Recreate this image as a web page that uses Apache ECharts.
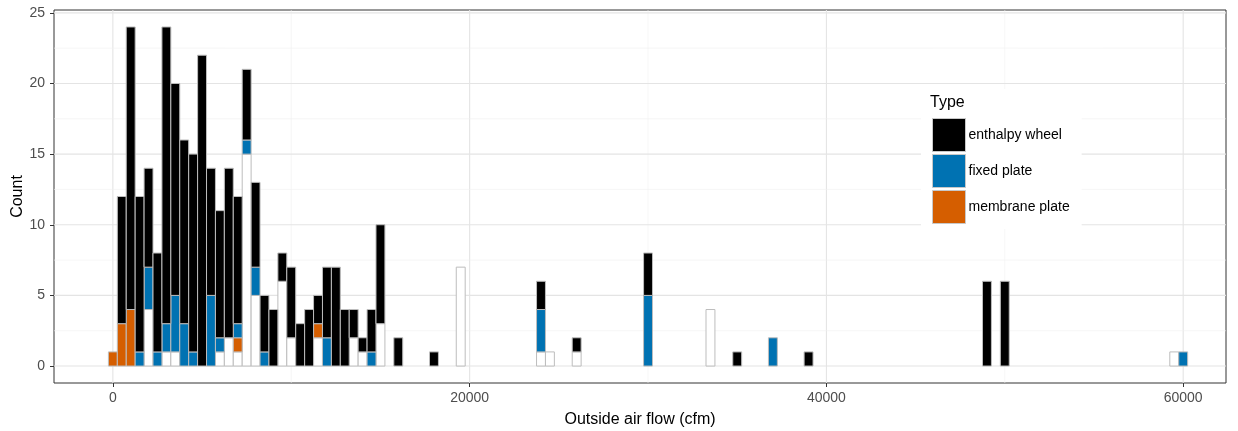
<!DOCTYPE html>
<html>
<head>
<meta charset="utf-8">
<script src="https://cdn.jsdelivr.net/npm/echarts@6/dist/echarts.min.js"></script>
<style>
  html, body { margin: 0; padding: 0; background: #ffffff; }
  #chart { width: 1238px; height: 431px; }
</style>
</head>
<body>
<div id="chart"></div>
<script>
// Histogram of outside air flow (bin width 500 cfm), counts per bin centre by type.
const binWidth = 500;

// [bin centre (cfm), count]
const enthalpyWheel = [
  [500, 9], [1000, 20], [1500, 11], [2000, 7], [2500, 7], [3000, 21], [3500, 15],
  [4000, 13], [4500, 14], [5000, 22], [5500, 9], [6000, 9], [6500, 12], [7000, 9],
  [7500, 5], [8000, 6], [8500, 4], [9000, 4], [9500, 2], [10000, 5], [10500, 3],
  [11000, 4], [11500, 2], [12000, 5], [12500, 7], [13000, 4], [13500, 2], [14000, 1],
  [14500, 3], [15000, 7], [16000, 2], [18000, 1], [24000, 2], [26000, 1], [30000, 3],
  [35000, 1], [39000, 1], [49000, 6], [50000, 6]
];
const fixedPlate = [
  [1500, 1], [2000, 3], [2500, 1], [3000, 2], [3500, 4], [4000, 3], [4500, 1],
  [5500, 5], [6000, 1], [7000, 1], [7500, 1], [8000, 2], [8500, 1], [12000, 2],
  [14500, 1], [24000, 3], [30000, 5], [37000, 2], [60000, 1]
];
const membranePlate = [
  [0, 1], [500, 3], [1000, 4], [7000, 1], [11500, 1]
];
// Units with no recorded type
const untyped = [
  [2000, 4], [3000, 1], [3500, 1], [6000, 1], [6500, 2], [7000, 1], [7500, 15],
  [8000, 5], [9500, 6], [10000, 2], [11500, 2], [13500, 2], [14000, 1], [15000, 3],
  [19500, 7], [24000, 1], [24500, 1], [26000, 1], [33500, 4], [59500, 1]
];

// Axis breaks
const xBreaks = [0, 20000, 40000, 60000];
const xMinorBreaks = [10000, 30000, 50000];
const yBreaks = [0, 5, 10, 15, 20, 25];
const yMinorBreaks = [2.5, 7.5, 12.5, 17.5, 22.5];

const typeColors = {
  'enthalpy wheel': '#000000',
  'fixed plate': '#0072B2',
  'membrane plate': '#D55E00',
  'untyped': '#ffffff'
};

// Stack from the bottom: untyped, membrane plate, fixed plate, enthalpy wheel
const stackOrder = [
  ['untyped', untyped],
  ['membrane plate', membranePlate],
  ['fixed plate', fixedPlate],
  ['enthalpy wheel', enthalpyWheel]
];
const baseByBin = {};
const stackedSeries = stackOrder.map(([name, counts]) => {
  const rows = counts.map(([x, n]) => {
    const base = baseByBin[x] || 0;
    baseByBin[x] = base + n;
    return [x, base, base + n];
  });
  return { name, rows };
});

function renderBar(params, api) {
  const x = api.value(0);
  const lo = api.value(1);
  const hi = api.value(2);
  const topLeft = api.coord([x - binWidth / 2, hi]);
  const bottomRight = api.coord([x + binWidth / 2, lo]);
  return {
    type: 'rect',
    shape: {
      x: topLeft[0],
      y: topLeft[1],
      width: bottomRight[0] - topLeft[0],
      height: bottomRight[1] - topLeft[1]
    },
    style: {
      fill: api.visual('color'),
      stroke: '#bdbdbd',
      lineWidth: 1
    }
  };
}

// Grid lines rows: [value, axis (0 = x, 1 = y), minor flag]
const gridRows = []
  .concat(xBreaks.map(v => [v, 0, 0]))
  .concat(xMinorBreaks.map(v => [v, 0, 1]))
  .concat(yBreaks.map(v => [v, 1, 0]))
  .concat(yMinorBreaks.map(v => [v, 1, 1]));

function renderGridLine(params, api) {
  const v = api.value(0);
  const isY = api.value(1) === 1;
  const minor = api.value(2) === 1;
  const cs = params.coordSys;
  let shape;
  if (isY) {
    const py = api.coord([0, v])[1];
    shape = { x1: cs.x, y1: py, x2: cs.x + cs.width, y2: py };
  } else {
    const px = api.coord([v, 0])[0];
    shape = { x1: px, y1: cs.y, x2: px, y2: cs.y + cs.height };
  }
  return {
    type: 'line',
    shape,
    style: { stroke: minor ? '#f0f0f0' : '#e4e4e4', lineWidth: minor ? 0.6 : 1.1 }
  };
}

const fontFamily = '"Liberation Sans", Arial, sans-serif';

const chart = echarts.init(document.getElementById('chart'), null, { renderer: 'canvas' });

const series = [
  {
    type: 'custom',
    name: 'grid',
    silent: true,
    z: 0,
    renderItem: renderGridLine,
    encode: { x: -1, y: -1 },
    data: gridRows,
    animation: false
  }
].concat(stackedSeries.map(s => ({
  type: 'custom',
  name: s.name,
  z: 2,
  itemStyle: { color: typeColors[s.name], borderColor: '#bdbdbd', borderWidth: 1 },
  renderItem: renderBar,
  encode: { x: 0, y: [1, 2] },
  data: s.rows,
  animation: false
})));

chart.setOption({
  animation: false,
  textStyle: { fontFamily },
  grid: {
    left: 54, right: 12, top: 10, bottom: 48,
    show: true,
    backgroundColor: '#ffffff',
    borderColor: '#333333',
    borderWidth: 1,
    containLabel: false,
    outerBoundsMode: 'none'
  },
  xAxis: {
    type: 'value',
    min: -3300,
    max: 62400,
    name: 'Outside air flow (cfm)',
    nameLocation: 'middle',
    nameGap: 29,
    nameTextStyle: { color: '#000000', fontSize: 16, fontFamily },
    axisLine: { show: false, onZero: false },
    splitLine: { show: false },
    axisTick: { show: true, length: 4, lineStyle: { color: '#333333' }, customValues: xBreaks },
    axisLabel: {
      color: '#4d4d4d', fontSize: 14, margin: 8, fontFamily,
      customValues: xBreaks,
      formatter: v => String(v)
    }
  },
  yAxis: {
    type: 'value',
    min: -1.2,
    max: 25.2,
    name: 'Count',
    nameLocation: 'middle',
    nameGap: 28,
    nameMoveOverlap: false,
    nameRotate: 90,
    nameTextStyle: { color: '#000000', fontSize: 16, fontFamily },
    axisLine: { show: false, onZero: false },
    splitLine: { show: false },
    axisTick: { show: true, length: 4, lineStyle: { color: '#333333' }, customValues: yBreaks },
    axisLabel: {
      color: '#4d4d4d', fontSize: 14, margin: 9, fontFamily,
      customValues: yBreaks,
      formatter: v => String(v)
    }
  },
  legend: {
    data: ['enthalpy wheel', 'fixed plate', 'membrane plate'],
    orient: 'vertical',
    left: 921,
    top: 89,
    padding: [29, 12, 5, 11],
    backgroundColor: '#ffffff',
    itemWidth: 33,
    itemHeight: 33,
    itemGap: 2,
    icon: 'rect',
    selectedMode: false,
    itemStyle: { borderColor: '#c8c8c8', borderWidth: 1 },
    textStyle: { color: '#000000', fontSize: 14, fontFamily, padding: [0, 0, 0, -2] }
  },
  graphic: [
    {
      type: 'text',
      left: 930,
      top: 95,
      z: 100,
      style: { text: 'Type', fill: '#000000', font: '16px ' + fontFamily }
    }
  ],
  series
});
</script>
</body>
</html>
